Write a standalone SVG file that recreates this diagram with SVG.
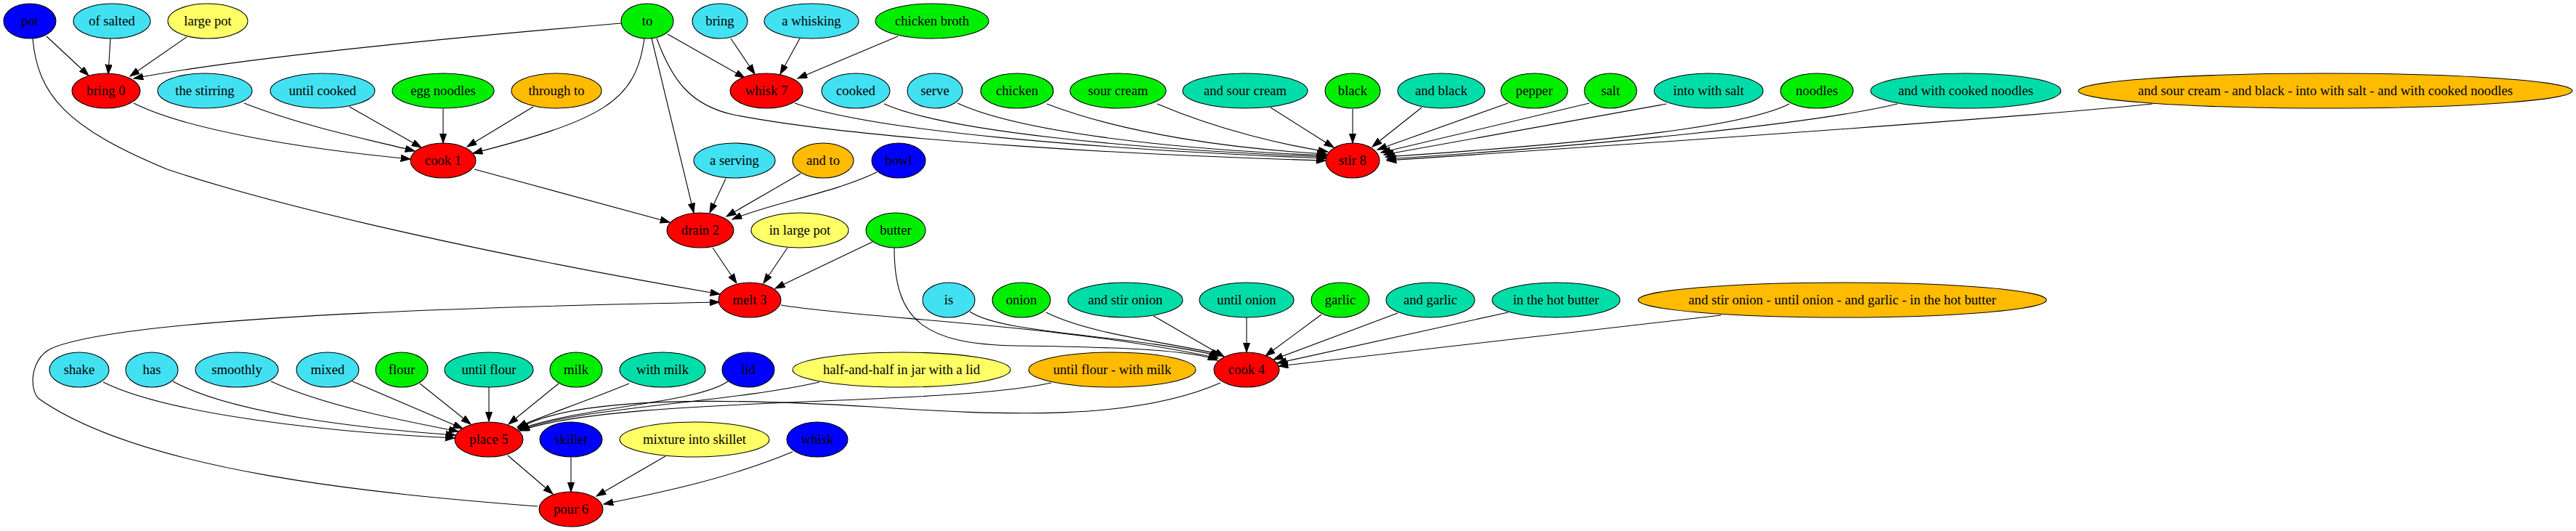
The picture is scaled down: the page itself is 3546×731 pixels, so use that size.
<svg xmlns="http://www.w3.org/2000/svg" width="3546" height="731" viewBox="0 0 3546 731">
<style>
ellipse{stroke:#000;stroke-width:1.1}
text{font-family:"Liberation Serif","Times New Roman",serif;font-size:18.67px;text-anchor:middle;fill:#000}
.r{fill:#ff0000}.b{fill:#0000ff}.c{fill:#42e1f2}.g{fill:#00ee00}.t{fill:#00dda8}.o{fill:#ffbb00}.y{fill:#ffff66}
#edges path{fill:none;stroke:#000;stroke-width:1.1;marker-end:url(#ah)}
</style>
<defs>
<marker id="ah" markerUnits="userSpaceOnUse" markerWidth="14" markerHeight="10" refX="13.3" refY="4.67" orient="auto">
<path d="M0,0 L13.3,4.67 L0,9.33 Z" fill="#000" stroke="#000" stroke-width="1"/>
</marker>
</defs>
<rect width="3546" height="731" fill="#fff"/>
<g id="edges">
<path d="M64,50 L122,104"/>
<path d="M152,53 L149,102"/>
<path d="M257,51 L179,105"/>
<path d="M855,32 C620,52 330,80 184,108"/>
<path d="M45,53 C52,130 90,175 230,233 C400,290 700,355 991,405"/>
<path d="M740,697 C520,680 200,650 55,550 C40,540 40,495 70,480 C150,445 500,425 990,416"/>
<path d="M184,142 C260,180 420,205 565,219"/>
<path d="M336,142 C420,175 520,195 571,208"/>
<path d="M481,147 L580,203"/>
<path d="M610,150 L610,197"/>
<path d="M734,147 L643,202"/>
<path d="M887,53 C875,140 830,165 651,211"/>
<path d="M919,47 L1025,107"/>
<path d="M1006,53 L1039,102"/>
<path d="M1101,53 L1074,102"/>
<path d="M1236,50 L1098,108"/>
<path d="M897,53 L955,293"/>
<path d="M653,233 L922,306"/>
<path d="M999,246 L977,293"/>
<path d="M1102,239 L1000,298"/>
<path d="M1207,237 C1150,265 1060,280 1008,302"/>
<path d="M904,53 C925,110 950,145 1010,158 C1200,195 1600,215 1825,221"/>
<path d="M1094,142 C1200,180 1500,205 1825,218"/>
<path d="M1217,143 C1300,180 1550,205 1825,216"/>
<path d="M1318,142 C1400,180 1600,205 1826,214"/>
<path d="M1441,143 C1550,185 1700,205 1826,212"/>
<path d="M1593,143 C1680,180 1770,200 1828,209"/>
<path d="M1749,148 L1836,203"/>
<path d="M1862,150 L1862,197"/>
<path d="M1957,148 L1889,202"/>
<path d="M2076,142 L1896,206"/>
<path d="M2188,142 L1901,210"/>
<path d="M2294,143 L1905,213"/>
<path d="M2463,143 C2420,165 2300,190 1907,216"/>
<path d="M2612,143 C2500,170 2200,200 1909,219"/>
<path d="M2963,143 C2800,160 2300,195 1909,221"/>
<path d="M981,341 L1014,390"/>
<path d="M1084,341 L1051,390"/>
<path d="M1201,333 L1067,397"/>
<path d="M1231,341 C1231,440 1270,474 1400,476 C1550,478 1640,482 1676,496"/>
<path d="M1075,420 C1200,440 1450,445 1677,493"/>
<path d="M1335,429 C1380,460 1550,460 1679,490"/>
<path d="M1440,430 C1500,460 1600,470 1681,488"/>
<path d="M1588,435 L1685,491"/>
<path d="M1716,437 L1716,485"/>
<path d="M1819,433 L1742,490"/>
<path d="M1924,431 L1753,495"/>
<path d="M2076,430 L1758,500"/>
<path d="M2369,434 L1760,504"/>
<path d="M1680,527 C1560,580 1380,572 1200,560 C1000,548 790,545 713,590"/>
<path d="M142,526 C230,570 450,595 626,603"/>
<path d="M238,525 C320,570 500,590 627,599"/>
<path d="M373,525 C450,560 560,580 631,594"/>
<path d="M485,525 L637,590"/>
<path d="M578,528 L648,584"/>
<path d="M673,533 L673,580"/>
<path d="M769,528 L700,584"/>
<path d="M866,528 C800,555 740,575 712,588"/>
<path d="M1002,525 C960,555 800,560 714,591"/>
<path d="M1128,526 C1000,555 800,560 715,592"/>
<path d="M1447,527 C1300,560 850,545 716,593"/>
<path d="M699,627 L761,680"/>
<path d="M786,630 L786,677"/>
<path d="M916,628 L821,683"/>
<path d="M1091,622 C1000,660 900,680 831,694"/>
</g>
<g id="n_pot"><ellipse class="b" cx="41" cy="29" rx="36" ry="24"/><text x="41" y="35">pot</text></g>
<g id="n_of_salted"><ellipse class="c" cx="154" cy="29" rx="53" ry="24"/><text x="154" y="35">of salted</text></g>
<g id="n_large_pot"><ellipse class="y" cx="286" cy="29" rx="55" ry="24"/><text x="286" y="35">large pot</text></g>
<g id="n_to"><ellipse class="g" cx="891" cy="29" rx="36" ry="24"/><text x="891" y="35">to</text></g>
<g id="n_bring"><ellipse class="c" cx="991" cy="29" rx="38" ry="24"/><text x="991" y="35">bring</text></g>
<g id="n_a_whisking"><ellipse class="c" cx="1117" cy="29" rx="65" ry="24"/><text x="1117" y="35">a whisking</text></g>
<g id="n_chicken_broth"><ellipse class="g" cx="1283" cy="29" rx="78" ry="24"/><text x="1283" y="35">chicken broth</text></g>
<g id="n_bring0"><ellipse class="r" cx="146" cy="125" rx="47" ry="24"/><text x="146" y="131">bring 0</text></g>
<g id="n_the_stirring"><ellipse class="c" cx="282" cy="125" rx="65" ry="24"/><text x="282" y="131">the stirring</text></g>
<g id="n_until_cooked"><ellipse class="c" cx="444" cy="125" rx="72" ry="24"/><text x="444" y="131">until cooked</text></g>
<g id="n_egg_noodles"><ellipse class="g" cx="610" cy="125" rx="70" ry="24"/><text x="610" y="131">egg noodles</text></g>
<g id="n_through_to"><ellipse class="o" cx="766" cy="125" rx="62" ry="24"/><text x="766" y="131">through to</text></g>
<g id="n_whisk7"><ellipse class="r" cx="1055" cy="125" rx="50" ry="24"/><text x="1055" y="131">whisk 7</text></g>
<g id="n_cooked"><ellipse class="c" cx="1178" cy="125" rx="47" ry="24"/><text x="1178" y="131">cooked</text></g>
<g id="n_serve"><ellipse class="c" cx="1287" cy="125" rx="38" ry="24"/><text x="1287" y="131">serve</text></g>
<g id="n_chicken"><ellipse class="g" cx="1400" cy="125" rx="50" ry="24"/><text x="1400" y="131">chicken</text></g>
<g id="n_sour_cream"><ellipse class="g" cx="1539" cy="125" rx="66" ry="24"/><text x="1539" y="131">sour cream</text></g>
<g id="n_and_sour_cream"><ellipse class="t" cx="1714" cy="125" rx="86" ry="24"/><text x="1714" y="131">and sour cream</text></g>
<g id="n_black"><ellipse class="g" cx="1862" cy="125" rx="38" ry="24"/><text x="1862" y="131">black</text></g>
<g id="n_and_black"><ellipse class="t" cx="1984" cy="125" rx="60" ry="24"/><text x="1984" y="131">and black</text></g>
<g id="n_pepper"><ellipse class="g" cx="2112" cy="125" rx="46" ry="24"/><text x="2112" y="131">pepper</text></g>
<g id="n_salt"><ellipse class="g" cx="2217" cy="125" rx="36" ry="24"/><text x="2217" y="131">salt</text></g>
<g id="n_into_with_salt"><ellipse class="t" cx="2352" cy="125" rx="75" ry="24"/><text x="2352" y="131">into with salt</text></g>
<g id="n_noodles"><ellipse class="g" cx="2501" cy="125" rx="50" ry="24"/><text x="2501" y="131">noodles</text></g>
<g id="n_and_with_cooked_noodles"><ellipse class="t" cx="2706" cy="125" rx="131" ry="24"/><text x="2706" y="131">and with cooked noodles</text></g>
<g id="n_summary8"><ellipse class="o" cx="3201" cy="125" rx="340" ry="24"/><text x="3201" y="131">and sour cream - and black - into with salt - and with cooked noodles</text></g>
<g id="n_cook1"><ellipse class="r" cx="610" cy="221" rx="45" ry="24"/><text x="610" y="227">cook 1</text></g>
<g id="n_a_serving"><ellipse class="c" cx="1011" cy="221" rx="56" ry="24"/><text x="1011" y="227">a serving</text></g>
<g id="n_and_to"><ellipse class="o" cx="1133" cy="221" rx="42" ry="24"/><text x="1133" y="227">and to</text></g>
<g id="n_bowl"><ellipse class="b" cx="1237" cy="221" rx="37" ry="24"/><text x="1237" y="227">bowl</text></g>
<g id="n_stir8"><ellipse class="r" cx="1862" cy="221" rx="37" ry="24"/><text x="1862" y="227">stir 8</text></g>
<g id="n_drain2"><ellipse class="r" cx="964" cy="317" rx="46" ry="24"/><text x="964" y="323">drain 2</text></g>
<g id="n_in_large_pot"><ellipse class="y" cx="1101" cy="317" rx="67" ry="24"/><text x="1101" y="323">in large pot</text></g>
<g id="n_butter"><ellipse class="g" cx="1233" cy="317" rx="41" ry="24"/><text x="1233" y="323">butter</text></g>
<g id="n_melt3"><ellipse class="r" cx="1032" cy="413" rx="43" ry="24"/><text x="1032" y="419">melt 3</text></g>
<g id="n_is"><ellipse class="c" cx="1306" cy="413" rx="36" ry="24"/><text x="1306" y="419">is</text></g>
<g id="n_onion"><ellipse class="g" cx="1406" cy="413" rx="40" ry="24"/><text x="1406" y="419">onion</text></g>
<g id="n_and_stir_onion"><ellipse class="t" cx="1549" cy="413" rx="79" ry="24"/><text x="1549" y="419">and stir onion</text></g>
<g id="n_until_onion"><ellipse class="t" cx="1716" cy="413" rx="65" ry="24"/><text x="1716" y="419">until onion</text></g>
<g id="n_garlic"><ellipse class="g" cx="1845" cy="413" rx="40" ry="24"/><text x="1845" y="419">garlic</text></g>
<g id="n_and_garlic"><ellipse class="t" cx="1969" cy="413" rx="61" ry="24"/><text x="1969" y="419">and garlic</text></g>
<g id="n_in_the_hot_butter"><ellipse class="t" cx="2142" cy="413" rx="88" ry="24"/><text x="2142" y="419">in the hot butter</text></g>
<g id="n_summary4"><ellipse class="o" cx="2536" cy="413" rx="281" ry="24"/><text x="2536" y="419">and stir onion - until onion - and garlic - in the hot butter</text></g>
<g id="n_shake"><ellipse class="c" cx="109" cy="509" rx="41" ry="24"/><text x="109" y="515">shake</text></g>
<g id="n_has"><ellipse class="c" cx="209" cy="509" rx="36" ry="24"/><text x="209" y="515">has</text></g>
<g id="n_smoothly"><ellipse class="c" cx="326" cy="509" rx="57" ry="24"/><text x="326" y="515">smoothly</text></g>
<g id="n_mixed"><ellipse class="c" cx="451" cy="509" rx="43" ry="24"/><text x="451" y="515">mixed</text></g>
<g id="n_flour"><ellipse class="g" cx="553" cy="509" rx="36" ry="24"/><text x="553" y="515">flour</text></g>
<g id="n_until_flour"><ellipse class="t" cx="673" cy="509" rx="61" ry="24"/><text x="673" y="515">until flour</text></g>
<g id="n_milk"><ellipse class="g" cx="793" cy="509" rx="36" ry="24"/><text x="793" y="515">milk</text></g>
<g id="n_with_milk"><ellipse class="t" cx="912" cy="509" rx="59" ry="24"/><text x="912" y="515">with milk</text></g>
<g id="n_lid"><ellipse class="b" cx="1030" cy="509" rx="36" ry="24"/><text x="1030" y="515">lid</text></g>
<g id="n_half_and_half"><ellipse class="y" cx="1241" cy="509" rx="150" ry="24"/><text x="1241" y="515">half-and-half in jar with a lid</text></g>
<g id="n_until_flour_with_milk"><ellipse class="o" cx="1531" cy="509" rx="115" ry="24"/><text x="1531" y="515">until flour - with milk</text></g>
<g id="n_cook4"><ellipse class="r" cx="1716" cy="509" rx="45" ry="24"/><text x="1716" y="515">cook 4</text></g>
<g id="n_place5"><ellipse class="r" cx="673" cy="605" rx="47" ry="24"/><text x="673" y="611">place 5</text></g>
<g id="n_skillet"><ellipse class="b" cx="786" cy="605" rx="43" ry="24"/><text x="786" y="611">skillet</text></g>
<g id="n_mixture_into_skillet"><ellipse class="y" cx="956" cy="605" rx="103" ry="24"/><text x="956" y="611">mixture into skillet</text></g>
<g id="n_whisk"><ellipse class="b" cx="1125" cy="605" rx="42" ry="24"/><text x="1125" y="611">whisk</text></g>
<g id="n_pour6"><ellipse class="r" cx="786" cy="701" rx="44" ry="24"/><text x="786" y="707">pour 6</text></g>
</svg>
